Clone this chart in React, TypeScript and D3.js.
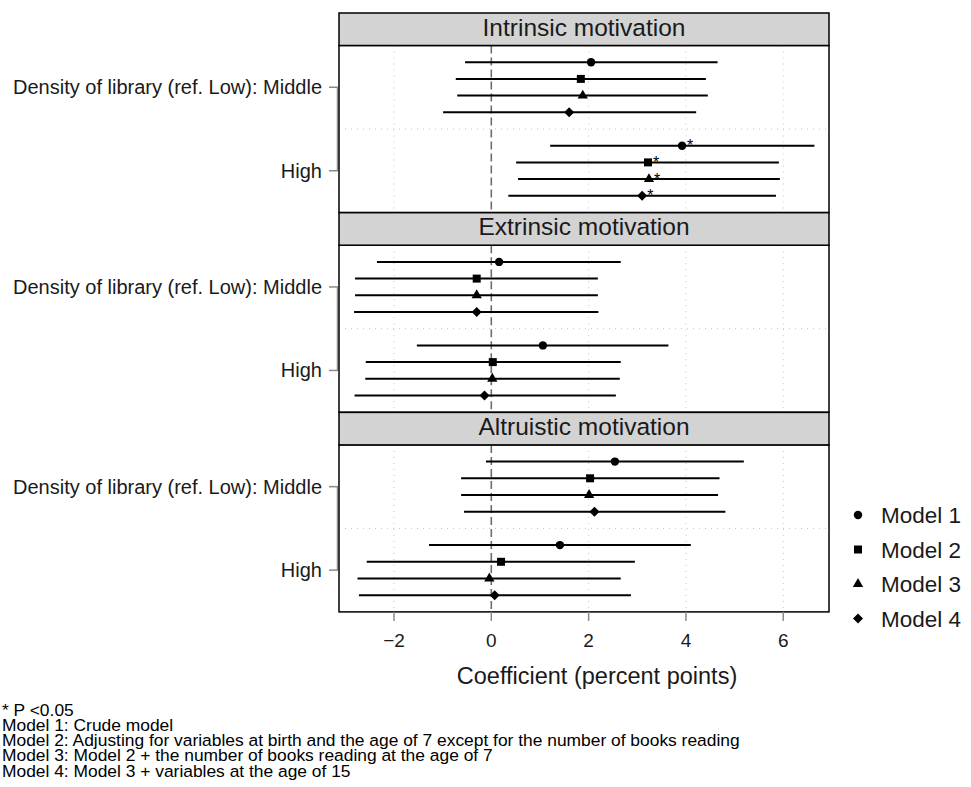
import React from "react";
import * as d3 from "d3";

const panels = ["Intrinsic motivation", "Extrinsic motivation", "Altruistic motivation"];
const levels = ["Density of library (ref. Low): Middle", "High"];
const models = ["Model 1", "Model 2", "Model 3", "Model 4"];
const xTicks = [-2, 0, 2, 4, 6];

// per panel: [Middle models 1-4, High models 1-4]
const estimate = [
  [[2.05, 1.84, 1.88, 1.6], [3.92, 3.22, 3.24, 3.1]],
  [[0.16, -0.3, -0.3, -0.3], [1.06, 0.03, 0.02, -0.14]],
  [[2.54, 2.03, 2.01, 2.12], [1.41, 0.2, -0.04, 0.07]],
];
const lower = [
  [[-0.54, -0.73, -0.7, -0.99], [1.21, 0.51, 0.55, 0.35]],
  [[-2.35, -2.8, -2.8, -2.82], [-1.53, -2.58, -2.59, -2.81]],
  [[-0.11, -0.62, -0.62, -0.56], [-1.28, -2.56, -2.75, -2.72]],
];
const upper = [
  [[4.65, 4.41, 4.45, 4.21], [6.64, 5.91, 5.93, 5.85]],
  [[2.66, 2.19, 2.19, 2.2], [3.64, 2.66, 2.64, 2.56]],
  [[5.19, 4.69, 4.66, 4.81], [4.1, 2.95, 2.66, 2.87]],
];
const significant = [
  [[false, false, false, false], [true, true, true, true]],
  [[false, false, false, false], [false, false, false, false]],
  [[false, false, false, false], [false, false, false, false]],
];
const notes = [
  "* P <0.05",
  "Model 1: Crude model",
  "Model 2: Adjusting for variables at birth and the age of 7 except for the number of books reading",
  "Model 3: Model 2 + the number of books reading at the age of 7",
  "Model 4: Model 3 + variables at the age of 15",
];

const W = 971;
const H = 787;
const left = 339;
const right = 829;
const top0 = 13;
const stripH = 32.5;
const blockH = 199.7;
const font = "'Liberation Sans', Arial, sans-serif";
const ink = "#1a1a1a";

const x = d3.scaleLinear().domain([-3.13, 6.94]).range([left, right]);

// marker paths
const shapes = [
  d3.symbol(d3.symbolCircle, 56)(),
  d3.symbol(d3.symbolSquare, 64)(),
  d3.symbol(d3.symbolTriangle, 46)(),
  d3.symbol(d3.symbolSquare, 50)(),
];
const shapeRot = [0, 0, 0, 45];

function Marker({ m, cx, cy }: { m: number; cx: number; cy: number }) {
  return (
    <path
      d={shapes[m] as string}
      transform={`translate(${cx},${cy}) rotate(${shapeRot[m]})`}
      fill="#000"
    />
  );
}

function Panel({ p }: { p: number }) {
  const sTop = top0 + p * blockH;
  const pTop = sTop + stripH;
  const pBot = sTop + blockH - 0.2;
  const y = d3.scaleLinear().domain([0, 10]).range([pTop, pBot]);
  return (
    <g>
      <rect x={left} y={pTop} width={right - left} height={pBot - pTop} fill="#fff" />
      {xTicks.filter((t) => t !== 0).map((t) => (
        <line key={t} x1={x(t)} x2={x(t)} y1={pTop} y2={pBot}
          stroke="#c4c4c4" strokeWidth={1} strokeDasharray="1,5" />
      ))}
      <line x1={left} x2={right} y1={y(5)} y2={y(5)} stroke="#c4c4c4" strokeWidth={1} strokeDasharray="1,5" />
      <line x1={x(0)} x2={x(0)} y1={pTop} y2={pBot} stroke="#6e6e6e" strokeWidth={1.6} strokeDasharray="8,4" />
      {levels.map((_, l) =>
        models.map((_, m) => {
          const cy = y(l * 5 + m + 1);
          const cx = x(estimate[p][l][m]);
          return (
            <g key={`${l}-${m}`}>
              <line x1={x(lower[p][l][m])} x2={x(upper[p][l][m])} y1={cy} y2={cy} stroke="#000" strokeWidth={2} />
              <Marker m={m} cx={cx} cy={cy} />
              {significant[p][l][m] && (
                <text x={cx + 5} y={cy + 5.5} fontSize={16} fontFamily={font} fill="#000">*</text>
              )}
            </g>
          );
        })
      )}
      <line x1={337.5} x2={337.5} y1={y(2.5)} y2={y(7.5)} stroke="#8a8a8a" strokeWidth={1.5} />
      {levels.map((lab, l) => (
        <g key={lab}>
          <line x1={329} x2={338} y1={y(l * 5 + 2.5)} y2={y(l * 5 + 2.5)} stroke="#8a8a8a" strokeWidth={1.5} />
          <text x={322} y={y(l * 5 + 2.5) + 7} textAnchor="end" fontSize={20} fontFamily={font} fill={ink}>
            {lab}
          </text>
        </g>
      ))}
      <rect x={left} y={pTop} width={right - left} height={pBot - pTop} fill="none" stroke="#000" strokeWidth={1.5} />
      <rect x={left} y={sTop} width={right - left} height={stripH} fill="#d3d3d3" stroke="#000" strokeWidth={1.5} />
      <text x={(left + right) / 2} y={sTop + 22.7} textAnchor="middle" fontSize={24.5} fontFamily={font} fill={ink}>
        {panels[p]}
      </text>
    </g>
  );
}

export default function App() {
  const axisY = top0 + 3 * blockH - 0.2;
  const legendY = [515, 549.5, 584, 618.5];
  return (
    <svg width={W} height={H} style={{ position: "absolute", left: 0, top: 0, background: "#fff" }}>
      <rect width={W} height={H} fill="#fff" />
      {panels.map((_, p) => <Panel key={p} p={p} />)}
      {xTicks.map((t) => (
        <g key={t}>
          <line x1={x(t)} x2={x(t)} y1={axisY} y2={axisY + 9} stroke="#8a8a8a" strokeWidth={1.5} />
          <text x={x(t)} y={647} textAnchor="middle" fontSize={19} fontFamily={font} fill={ink}>
            {t < 0 ? `\u2212${Math.abs(t)}` : t}
          </text>
        </g>
      ))}
      <text x={597} y={684} textAnchor="middle" fontSize={23.5} fontFamily={font} fill={ink}>
        Coefficient (percent points)
      </text>
      {models.map((name, m) => (
        <g key={name}>
          <Marker m={m} cx={858} cy={legendY[m]} />
          <text x={881} y={legendY[m] + 8} fontSize={22.5} fontFamily={font} fill={ink}>{name}</text>
        </g>
      ))}
      {notes.map((n, i) => (
        <text key={i} x={2} y={715.5 + i * 15.3} fontSize={17.4} fontFamily={font} fill="#000">{n}</text>
      ))}
    </svg>
  );
}
